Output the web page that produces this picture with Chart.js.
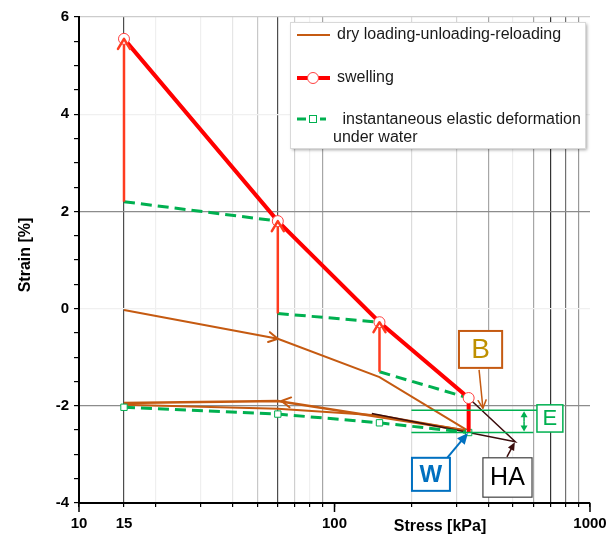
<!DOCTYPE html>
<html>
<head>
<meta charset="utf-8">
<script src="https://cdn.jsdelivr.net/npm/chart.js@4.4.1/dist/chart.umd.min.js"></script>
<style>
  body { margin: 0; background: #fff; }
  #wrap { width: 610px; height: 536px; }
</style>
</head>
<body>
<div id="wrap"><canvas id="chart"></canvas></div>
<script>
// stress levels of the test [kPa]
const stressSteps = [15, 60, 150, 335];

// swelling (red), strain [%] at each stress step
const swellStrain = [5.55, 1.80, -0.28, -1.84];
// swelling at constant stress: strain before -> after
const swellFrom = [2.20, -0.10, -1.30];
const swellTo = [5.55, 1.80, -0.28];
const lastSwellFrom = -2.55;

// instantaneous elastic deformation under water (green dashed)
const elasticUpperStart = [2.20, -0.10, -1.30];
const elasticUpperEnd = [1.80, -0.28, -1.84];
const elasticLowerStrain = [-2.03, -2.17, -2.35, -2.55];

// dry loading - unloading - reloading (brown)
const loadStrain = [-0.03, -0.62, -1.41, -2.52];
const unloadStress = [335, 60, 15];
const unloadStrain = [-2.52, -1.90, -1.94];
const reloadStrain = [-1.98, -2.06, -2.20, -2.52];

// HA path (dark brown)
const haStress = [140, 335, 510, 335];
const haStrain = [-2.16, -2.55, -2.74, -1.84];

// E band
const eStrain = [-2.09, -2.55];

// axis ticks
const xTickValues = [10, 15, 20, 30, 40, 50, 60, 70, 80, 90, 100, 200, 300, 400, 500, 600, 700, 800, 900, 1000];
const xTickLabels = [10, 15, 100, 1000];
const yTickLabels = [-4, -2, 0, 2, 4, 6];

const brown = '#c55a11';
const red = '#ff0000';
const arrowRed = '#ff3b1f';
const green = '#00b050';
const darkBrown = '#3b0d0d';
const font = 'Arial, "Liberation Sans", sans-serif';

const xGrid = {
  15: '#4d4d4d', 20: '#efefef', 30: '#efefef', 40: '#e6e6e6', 50: '#c8c8c8',
  60: '#4d4d4d', 70: '#cfcfcf', 80: '#f0f0f0', 90: '#a6a6a6',
  200: '#dcdcdc', 300: '#d6d6d6', 400: '#a6a6a6', 500: '#ededed', 600: '#a6a6a6',
  700: '#333333', 800: '#707070', 900: '#999999'
};
const yGrid = { 6: '#cccccc', 4: '#f0f0f0', 2: '#8c8c8c', 0: '#f0f0f0', '-2': '#8c8c8c' };

const pts = (xs, ys) => xs.map((v, i) => ({ x: v, y: ys[i] }));

const datasets = [];
// swelling
datasets.push({
  label: 'swelling', data: pts(stressSteps, swellStrain).concat([{ x: 335, y: lastSwellFrom }]),
  borderColor: red, borderWidth: 4, showLine: true,
  pointRadius: [5.5, 5.5, 5.5, 5.5, 0], pointBackgroundColor: '#fff', pointBorderColor: '#ff4040',
  pointBorderWidth: 1, order: 1
});
// swelling at constant stress
swellFrom.forEach((v, i) => {
  datasets.push({
    data: [{ x: stressSteps[i], y: v }, { x: stressSteps[i], y: swellTo[i] }],
    borderColor: arrowRed, borderWidth: 2.5, showLine: true, pointRadius: 0, order: 2
  });
});
// green upper segments
elasticUpperStart.forEach((v, i) => {
  datasets.push({
    data: [{ x: stressSteps[i], y: v }, { x: stressSteps[i + 1], y: elasticUpperEnd[i] }],
    borderColor: green, borderWidth: 3, borderDash: [11, 6], showLine: true, pointRadius: 0, order: 3
  });
});
// green lower with squares
datasets.push({
  data: pts(stressSteps, elasticLowerStrain),
  borderColor: green, borderWidth: 3, borderDash: [11, 6], showLine: true,
  pointStyle: 'rect', pointRadius: 4.5, pointBackgroundColor: '#fff', pointBorderColor: green,
  pointBorderWidth: 1, order: 4
});
// dry paths
datasets.push({ data: pts(stressSteps, loadStrain), borderColor: brown, borderWidth: 2, showLine: true, pointRadius: 0, order: 6 });
datasets.push({ data: pts(unloadStress, unloadStrain), borderColor: brown, borderWidth: 2.5, showLine: true, pointRadius: 0, order: 6 });
datasets.push({ data: pts(stressSteps, reloadStrain), borderColor: brown, borderWidth: 2, showLine: true, pointRadius: 0, order: 6 });
// HA
datasets.push({ data: pts(haStress, haStrain), borderColor: darkBrown, borderWidth: 1.5, showLine: true, pointRadius: 0, order: 5 });

function chevron(ctx, x1, y1, x2, y2, len, half, color, width) {
  const a = Math.atan2(y2 - y1, x2 - x1);
  ctx.save();
  ctx.strokeStyle = color;
  ctx.lineWidth = width;
  ctx.lineCap = 'round';
  ctx.lineJoin = 'round';
  ctx.translate(x2, y2);
  ctx.rotate(a);
  ctx.beginPath();
  ctx.moveTo(-len, -half);
  ctx.lineTo(0, 0);
  ctx.lineTo(-len, half);
  ctx.stroke();
  ctx.restore();
}

function arrowLine(ctx, x1, y1, x2, y2, color, width, len, half) {
  const a = Math.atan2(y2 - y1, x2 - x1);
  ctx.save();
  ctx.strokeStyle = color;
  ctx.fillStyle = color;
  ctx.lineWidth = width;
  ctx.beginPath();
  ctx.moveTo(x1, y1);
  ctx.lineTo(x2 - Math.cos(a) * len * 0.7, y2 - Math.sin(a) * len * 0.7);
  ctx.stroke();
  ctx.translate(x2, y2);
  ctx.rotate(a);
  ctx.beginPath();
  ctx.moveTo(0, 0);
  ctx.lineTo(-len, -half);
  ctx.lineTo(-len, half);
  ctx.closePath();
  ctx.fill();
  ctx.restore();
}

function box(ctx, x1, y1, x2, y2, border, bw, text, color, f) {
  ctx.save();
  ctx.fillStyle = '#fff';
  ctx.fillRect(x1, y1, x2 - x1, y2 - y1);
  ctx.strokeStyle = border;
  ctx.lineWidth = bw;
  ctx.strokeRect(x1, y1, x2 - x1, y2 - y1);
  ctx.fillStyle = color;
  ctx.font = f;
  ctx.textAlign = 'center';
  ctx.textBaseline = 'middle';
  ctx.fillText(text, (x1 + x2) / 2, (y1 + y2) / 2 + 1);
  ctx.restore();
}

const overlay = {
  id: 'overlay',
  afterDatasetsDraw(chart) {
    const { ctx, scales: { x, y } } = chart;
    const px = v => x.getPixelForValue(v);
    const py = v => y.getPixelForValue(v);

    // arrow heads on swelling steps
    swellFrom.forEach((v, i) => {
      const sx = px(stressSteps[i]);
      chevron(ctx, sx, py(v), sx, py(swellTo[i]), 10, 6, arrowRed, 2.5);
    });
    // arrow heads on the dry paths
    chevron(ctx, px(stressSteps[0]), py(loadStrain[0]), px(stressSteps[1]), py(loadStrain[1]), 9, 5, brown, 2);
    chevron(ctx, px(unloadStress[0]), py(unloadStrain[0]), px(62), py(unloadStrain[1]), 9, 5, brown, 2);

    // E band
    ctx.save();
    ctx.strokeStyle = green;
    ctx.lineWidth = 1.5;
    ctx.beginPath();
    ctx.moveTo(px(200), py(eStrain[0])); ctx.lineTo(px(620), py(eStrain[0]));
    ctx.moveTo(px(200), py(eStrain[1])); ctx.lineTo(px(600), py(eStrain[1]));
    ctx.stroke();
    ctx.restore();
    const ex = px(552);
    arrowLine(ctx, ex, py(-2.32), ex, py(eStrain[0]) + 1, green, 1.5, 6, 3.5);
    arrowLine(ctx, ex, py(-2.32), ex, py(eStrain[1]) - 1, green, 1.5, 6, 3.5);
    box(ctx, px(620), py(-1.98), px(783), py(-2.54), green, 1.5, 'E', green, '22px ' + font);

    // B
    box(ctx, px(307), py(-0.46), px(453), py(-1.22), brown, 2, 'B', '#bf9000', '28px ' + font);
    ctx.save();
    ctx.strokeStyle = brown; ctx.lineWidth = 1.5;
    ctx.beginPath(); ctx.moveTo(px(368), py(-1.26)); ctx.lineTo(px(381), py(-2.05)); ctx.stroke();
    ctx.restore();
    chevron(ctx, px(368), py(-1.26), px(381), py(-2.05), 8, 4, brown, 1.5);

    // W
    arrowLine(ctx, px(276), py(-3.07), px(333), py(-2.56), '#0070c0', 2, 11, 5);
    box(ctx, px(201), py(-3.07), px(283), py(-3.75), '#0070c0', 2, 'W', '#0070c0', 'bold 24px ' + font);

    // HA
    arrowLine(ctx, px(473), py(-3.05), px(508), py(-2.75), darkBrown, 1.5, 8, 3.5);
    box(ctx, px(381), py(-3.07), px(593), py(-3.88), '#404040', 1.2, 'HA', '#000', '25px ' + font);

    // legend
    ctx.save();
    ctx.shadowColor = 'rgba(0,0,0,0.35)';
    ctx.shadowOffsetX = 2;
    ctx.shadowOffsetY = 2;
    ctx.shadowBlur = 3;
    ctx.fillStyle = '#fff';
    ctx.fillRect(290, 22, 295, 126);
    ctx.restore();
    ctx.save();
    ctx.strokeStyle = '#d9d9d9';
    ctx.lineWidth = 1;
    ctx.strokeRect(290.5, 22.5, 295, 126);
    ctx.font = '16px ' + font;
    ctx.fillStyle = '#1a1a1a';
    ctx.textBaseline = 'middle';
    ctx.fillText('dry loading-unloading-reloading', 337, 35);
    ctx.fillText('swelling', 337, 78);
    ctx.fillText(' instantaneous elastic deformation', 338, 120);
    ctx.fillText('under water', 333, 138);
    ctx.lineCap = 'butt';
    ctx.strokeStyle = brown; ctx.lineWidth = 2;
    ctx.beginPath(); ctx.moveTo(297, 35); ctx.lineTo(330, 35); ctx.stroke();
    ctx.strokeStyle = red; ctx.lineWidth = 4;
    ctx.beginPath(); ctx.moveTo(297, 78); ctx.lineTo(330, 78); ctx.stroke();
    ctx.fillStyle = '#fff'; ctx.strokeStyle = '#ff4040'; ctx.lineWidth = 1;
    ctx.beginPath(); ctx.arc(313, 78, 5.5, 0, Math.PI * 2); ctx.fill(); ctx.stroke();
    ctx.strokeStyle = green; ctx.lineWidth = 3;
    ctx.beginPath(); ctx.moveTo(297, 119); ctx.lineTo(306, 119); ctx.moveTo(320, 119); ctx.lineTo(326, 119); ctx.stroke();
    ctx.lineWidth = 1;
    ctx.fillStyle = '#fff';
    ctx.fillRect(309, 115.5, 7, 7);
    ctx.strokeRect(309.5, 115.5, 7, 7);
    ctx.restore();
  },
  afterDraw(chart) {
    const { ctx, scales: { x, y } } = chart;
    ctx.save();
    // long ticks at decades
    ctx.strokeStyle = '#000';
    ctx.lineWidth = 1.5;
    [10, 100, 1000].forEach(v => {
      const p = x.getPixelForValue(v);
      ctx.beginPath(); ctx.moveTo(p, y.bottom); ctx.lineTo(p, y.bottom + 9); ctx.stroke();
    });
    ctx.fillStyle = '#000';
    ctx.font = 'bold 16px ' + font;
    ctx.textAlign = 'center';
    ctx.textBaseline = 'middle';
    ctx.fillText('Stress [kPa]', 440, 527);
    ctx.translate(26, 255);
    ctx.rotate(-Math.PI / 2);
    ctx.fillText('Strain [%]', 0, 0);
    ctx.restore();
  }
};

new Chart(document.getElementById('chart'), {
  type: 'scatter',
  data: { datasets },
  options: {
    responsive: true,
    maintainAspectRatio: false,
    animation: false,
    layout: { padding: { top: 17, right: 20, left: 0, bottom: 0 } },
    plugins: { legend: { display: false }, tooltip: { enabled: false } },
    scales: {
      x: {
        type: 'logarithmic',
        min: 10, max: 1000,
        afterBuildTicks: s => { s.ticks = xTickValues.map(v => ({ value: v })); },
        afterFit: s => { s.height = 33; s.paddingRight = 0; s.paddingLeft = 0; },
        border: { color: '#000', width: 2 },
        grid: {
          color: c => xGrid[c.tick.value] || 'rgba(0,0,0,0)',
          tickColor: '#000', tickLength: 4, lineWidth: 1.2
        },
        ticks: {
          autoSkip: false, maxRotation: 0, padding: 8,
          color: '#000', font: { family: font, size: 15, weight: 'bold' },
          callback: v => xTickLabels.includes(v) ? String(v) : ''
        }
      },
      y: {
        min: -4, max: 6,
        afterFit: s => { s.width = 79; },
        border: { color: '#000', width: 2 },
        grid: {
          color: c => yGrid[c.tick.value] || 'rgba(0,0,0,0)',
          tickColor: '#000', tickLength: 5, lineWidth: 1.2
        },
        ticks: {
          stepSize: 0.5, autoSkip: false, padding: 5,
          color: '#000', font: { family: font, size: 15, weight: 'bold' },
          callback: v => yTickLabels.includes(v) ? String(v) : ''
        }
      }
    }
  },
  plugins: [overlay]
});
</script>
</body>
</html>
